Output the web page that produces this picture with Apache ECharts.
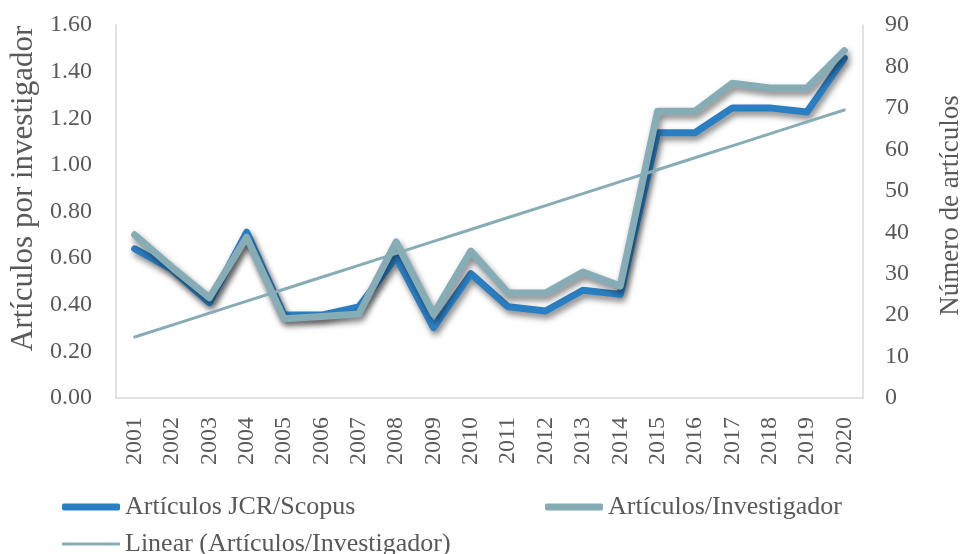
<!DOCTYPE html>
<html>
<head>
<meta charset="utf-8">
<script src="https://cdn.jsdelivr.net/npm/echarts@6/dist/echarts.min.js"></script>
<style>
  html, body { margin: 0; padding: 0; background: #fff; }
  #chart { width: 972px; height: 554px; }
</style>
</head>
<body>
<div id="chart"></div>
<script>
// datos
var years = ['2001','2002','2003','2004','2005','2006','2007','2008','2009','2010',
             '2011','2012','2013','2014','2015','2016','2017','2018','2019','2020']
// eje derecho: numero de articulos
var articulosJcr = [36, 31, 23, 40, 20, 20, 22, 34, 17, 30, 22, 21, 26, 25, 64, 64, 70, 70, 69, 82]
// eje izquierdo: articulos por investigador
var articulosInv = [0.70, 0.56, 0.43, 0.69, 0.34, 0.35, 0.36, 0.67, 0.36, 0.63,
                    0.45, 0.45, 0.54, 0.48, 1.23, 1.23, 1.35, 1.33, 1.33, 1.49]

// tendencia lineal (minimos cuadrados sobre articulosInv)
function linearTrend(vals) {
    var n = vals.length, sx = 0, sy = 0, sxy = 0, sxx = 0
    vals.forEach(function (v, i) {
        var x = i + 1
        sx += x; sy += v; sxy += x * v; sxx += x * x
    })
    var b = (n * sxy - sx * sy) / (n * sxx - sx * sx)
    var a = (sy - b * sx) / n
    return vals.map(function (v, i) { return +(a + b * (i + 1)).toFixed(4) })
}
var tendencia = linearTrend(articulosInv)

var dark = '#2a7fc3'
var light = '#86acb6'
var txt = '#595959'
var font = 'Liberation Serif'
var shadow = { shadowColor: 'rgba(0,0,0,0.5)', shadowBlur: 6, shadowOffsetX: 2, shadowOffsetY: 4 }

function legendBox(left, top, name, h) {
    return {
        left: left, top: top, itemWidth: 58, itemHeight: h, itemGap: 5,
        icon: 'roundRect',
        textStyle: { fontFamily: font, fontSize: 26, color: txt },
        data: [name]
    }
}

var chart = echarts.init(document.getElementById('chart'))
var option = {
    animation: false,
    textStyle: { fontFamily: font, color: txt },
    grid: { left: 111, right: 91, top: 25, bottom: 156 },
    legend: [
        legendBox(57, 489, 'Artículos JCR/Scopus', 7),
        legendBox(540, 489, 'Artículos/Investigador', 7),
        legendBox(57, 526, 'Linear (Artículos/Investigador)', 3)
    ],
    xAxis: {
        type: 'category',
        data: years,
        boundaryGap: true,
        axisLine: { show: true, lineStyle: { color: '#d9d9d9', width: 1.5 } },
        axisTick: { show: false },
        axisLabel: { rotate: 90, margin: 19, fontSize: 24, fontFamily: font, color: txt }
    },
    yAxis: [
        {
            type: 'value', min: 0, max: 1.6, interval: 0.2, position: 'left',
            name: 'Artículos por investigador', nameLocation: 'middle', nameGap: 77,
            nameRotate: 90,
            nameTextStyle: { fontFamily: font, fontSize: 31, color: txt, padding: [0, 0, 0, 46] },
            axisLine: { show: true, lineStyle: { color: '#d9d9d9', width: 1.5 } },
            axisTick: { show: false },
            splitLine: { show: false },
            axisLabel: { margin: 24, fontSize: 24, fontFamily: font, color: txt,
                         formatter: function (v) { return v.toFixed(2) } }
        },
        {
            type: 'value', min: 0, max: 90, interval: 10, position: 'right',
            name: 'Número de artículos', nameLocation: 'middle', nameGap: 74,
            nameRotate: 90,
            nameTextStyle: { fontFamily: font, fontSize: 27, color: txt, padding: [0, 0, 0, 12] },
            axisLine: { show: true, lineStyle: { color: '#d9d9d9', width: 1.5 } },
            axisTick: { show: false },
            splitLine: { show: false },
            axisLabel: { margin: 22, fontSize: 24, fontFamily: font, color: txt }
        }
    ],
    series: [
        {
            name: 'Artículos JCR/Scopus', type: 'line', yAxisIndex: 1,
            data: articulosJcr, symbol: 'none', z: 2,
            itemStyle: { color: dark },
            lineStyle: Object.assign({ color: dark, width: 7, join: 'round', cap: 'round' }, shadow)
        },
        {
            name: 'Artículos/Investigador', type: 'line', yAxisIndex: 0,
            data: articulosInv, symbol: 'none', z: 3,
            itemStyle: { color: light },
            lineStyle: Object.assign({ color: light, width: 7, join: 'round', cap: 'round' }, shadow)
        },
        {
            name: 'Linear (Artículos/Investigador)', type: 'line', yAxisIndex: 0,
            data: tendencia, symbol: 'none', z: 4,
            itemStyle: { color: light },
            lineStyle: { color: light, width: 3, cap: 'round' }
        }
    ]
}
option && chart.setOption(option)
</script>
</body>
</html>
